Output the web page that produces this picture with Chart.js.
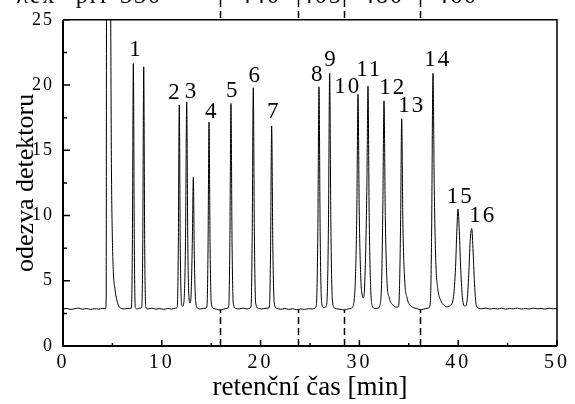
<!DOCTYPE html>
<html>
<head>
<meta charset="utf-8">
<script src="https://cdn.jsdelivr.net/npm/chart.js@4.4.0/dist/chart.umd.min.js"></script>
<style>
  html, body { margin: 0; padding: 0; background: #fff; }
  canvas { display: block; }
</style>
</head>
<body>
<canvas id="chart" width="575" height="404"></canvas>
<script>
// chromatogram: retention time [min] and detector response
const chromTime = [
  0, 0.4, 0.8, 1.2, 1.6, 2.0, 2.4, 2.8, 3.2, 3.6, 4.0, 4.3,
  4.37, 4.4, 4.43, 4.78, 4.83, 4.9, 4.99, 5.1, 5.27, 5.45, 5.65, 5.9, 6.2, 6.55,
  6.92, 7.02, 7.12, 7.22, 7.32, 7.52, 7.77,
  7.97, 8.07, 8.17, 8.27, 8.38, 8.6, 9.0, 9.4, 9.8, 10.2, 10.6, 11.0, 11.4,
  11.57, 11.67, 11.77, 11.87, 12.0, 12.1,
  12.24, 12.4, 12.52, 12.63, 12.76, 12.86,
  12.98, 13.1, 13.19, 13.29, 13.43, 13.63, 13.93, 14.23, 14.48,
  14.58, 14.68, 14.78, 14.89, 15.01, 15.23, 15.53, 15.9, 16.28, 16.63,
  16.78, 16.89, 17.0, 17.11, 17.23, 17.48, 17.83, 18.23, 18.63, 18.93,
  19.04, 19.15, 19.26, 19.37, 19.5, 19.74, 20.09, 20.44, 20.79,
  20.9, 21.01, 21.12, 21.24, 21.38, 21.64, 22.04, 22.44, 22.84, 23.24, 23.64, 24.04, 24.44, 24.84, 25.24, 25.5,
  25.65, 25.79, 25.91, 26.03, 26.17, 26.35,
  26.61, 26.76, 26.87, 26.99, 27.11, 27.26, 27.46, 27.81, 28.16, 28.5, 28.85, 29.2,
  29.41, 29.61, 29.74, 29.86, 29.98, 30.14, 30.28, 30.39,
  30.51, 30.66, 30.76, 30.87, 30.99, 31.14, 31.31, 31.56, 31.86,
  32.07, 32.25, 32.37, 32.49, 32.62, 32.79, 33.02, 33.37, 33.72, 33.94,
  34.05, 34.17, 34.28, 34.4, 34.57, 34.82, 35.17, 35.57, 35.92, 36.27, 36.67, 37.03,
  37.18, 37.3, 37.45, 37.58, 37.73, 37.93, 38.23, 38.58, 38.84,
  39.18, 39.53, 39.73, 39.86, 39.98, 40.11, 40.26, 40.43, 40.68,
  40.89, 41.07, 41.21, 41.37, 41.51, 41.67, 41.84, 42.09,
  42.4, 42.8, 43.2, 43.6, 44.0, 44.4, 44.8, 45.2, 45.6, 46.0, 46.4, 46.8, 47.2, 47.6, 48.0, 48.4, 48.8, 49.2, 49.6, 50.0
];
const chromSignal = [
  2.84, 2.88, 2.8, 2.86, 2.9, 2.82, 2.87, 2.8, 2.86, 2.83, 2.88, 2.85,
  3.6, 24, 32, 32, 25, 14, 8.5, 5.6, 4.3, 3.5, 3.05, 2.88, 2.84, 2.88,
  2.9, 7.5, 21.65, 7.5, 2.95, 2.84, 2.9,
  2.95, 7.5, 21.4, 7.5, 3.0, 2.84, 2.9, 2.82, 2.87, 2.8, 2.88, 2.83, 2.9,
  3.0, 7.5, 18.47, 7.5, 3.2, 3.05,
  3.4, 8, 18.71, 8, 3.6, 3.3,
  4.2, 8.5, 12.93, 7, 3.4, 2.9, 2.84, 2.88, 2.9,
  3.1, 7.5, 17.16, 7.5, 3.3, 2.88, 2.82, 2.76, 2.84, 2.9,
  3.1, 8, 18.59, 8, 3.3, 2.88, 2.84, 2.9, 2.84, 2.9,
  3.1, 8.5, 19.79, 8.5, 3.3, 2.9, 2.84, 2.88, 2.9,
  3.1, 7.5, 16.86, 7.5, 3.3, 2.88, 2.82, 2.88, 2.8, 2.86, 2.78, 2.84, 2.8, 2.86, 2.84, 2.9,
  3.2, 8.5, 19.86, 8.5, 3.4, 2.95,
  3.0, 4.2, 9.5, 20.9, 9.5, 3.6, 2.92, 2.84, 2.8, 2.76, 2.84, 2.9,
  3.2, 5.5, 10.5, 19.29, 10.5, 5.2, 3.9, 3.7,
  4.3, 8, 12.5, 19.91, 10, 4.5, 3.05, 2.88, 2.9,
  3.1, 5, 10.5, 18.79, 10, 5, 3.7, 3.15, 2.98, 3.0,
  4.2, 9.5, 17.42, 9.5, 5.2, 3.7, 3.1, 2.92, 2.84, 2.78, 2.86, 2.92,
  3.3, 8, 20.9, 12, 6.5, 4.4, 3.5, 3.1, 3.0,
  3.1, 3.8, 6, 8.8, 10.48, 8.8, 5.8, 3.7, 3.05,
  3.4, 5.5, 8, 9.0, 7.2, 4.5, 3.1, 2.9,
  2.85, 2.9, 2.83, 2.88, 2.84, 2.9, 2.82, 2.88, 2.85, 2.9, 2.83, 2.88, 2.84, 2.9, 2.85, 2.88, 2.83, 2.9, 2.85, 2.87
];

// peak numbers and where they are written (data coordinates)
const peakLabels = ['1','2','3','4','5','6','7','8','9','10','11','12','13','14','15','16'];
const peakLabelTime = [7.29, 11.23, 12.9, 14.95, 17.08, 19.36, 21.23, 25.68, 27.02, 28.71, 30.9, 33.27, 35.19, 37.82, 40.11, 42.38];
const peakLabelValue = [22.7, 19.4, 19.5, 17.96, 19.54, 20.66, 17.91, 20.79, 21.9, 19.84, 21.16, 19.78, 18.41, 21.9, 11.43, 9.93];

// detector wavelength switches
const switchTimes = [15.89, 23.75, 28.47, 36.16];
const switchBaseline = 2.8;
const topTexts = ['λex', 'při', '330', '440', '405', '480', '460'];
const topTextTimes = [-2.7, 2.95, 7.9, 19.94, 26.2, 32.39, 39.88];

const xMinorTicks = [5, 15, 25, 35, 45];
const yMinorTicks = [2.5, 7.5, 12.5, 17.5, 22.5];

const SERIF = "'Liberation Serif', 'Times New Roman', serif";

// the figure's digits are set loosely; widen tick labels a bit
function spacedLabels(scale, spacing) {
  const orig = scale.drawLabels;
  scale.drawLabels = function (area) {
    const c = this.ctx;
    c.save();
    c.letterSpacing = spacing;
    orig.call(this, area);
    c.restore();
  };
}

const decorations = {
  id: 'decorations',
  afterDatasetsDraw(chart) {
    const { ctx, chartArea: a, scales: { x, y } } = chart;
    ctx.save();
    ctx.strokeStyle = '#000';
    ctx.fillStyle = '#000';

    // dashed switch lines (bottom, below baseline) and their marks above the frame
    ctx.lineWidth = 1.5;
    ctx.setLineDash([7, 4]);
    switchTimes.forEach(t => {
      const px = Math.round(x.getPixelForValue(t)) + 0.5;
      ctx.beginPath();
      ctx.moveTo(px, a.bottom);
      ctx.lineTo(px, y.getPixelForValue(switchBaseline));
      ctx.stroke();
      ctx.beginPath();
      ctx.moveTo(px, 0);
      ctx.lineTo(px, a.top);
      ctx.stroke();
    });
    ctx.setLineDash([]);

    // frame
    ctx.lineWidth = 1.5;
    ctx.beginPath();
    ctx.moveTo(a.left, a.top);
    ctx.lineTo(a.right, a.top);
    ctx.lineTo(a.right, a.bottom);
    ctx.stroke();
    ctx.lineWidth = 2;
    ctx.beginPath();
    ctx.moveTo(a.left, a.top);
    ctx.lineTo(a.left, a.bottom);
    ctx.lineTo(a.right, a.bottom);
    ctx.stroke();

    // inward tick marks
    ctx.lineWidth = 1.5;
    ctx.beginPath();
    x.ticks.forEach(tk => {
      const px = x.getPixelForValue(tk.value);
      ctx.moveTo(px, a.bottom); ctx.lineTo(px, a.bottom - 6);
    });
    xMinorTicks.forEach(v => {
      const px = x.getPixelForValue(v);
      ctx.moveTo(px, a.bottom); ctx.lineTo(px, a.bottom - 3);
    });
    y.ticks.forEach(tk => {
      const py = y.getPixelForValue(tk.value);
      ctx.moveTo(a.left, py); ctx.lineTo(a.left + 7, py);
    });
    yMinorTicks.forEach(v => {
      const py = y.getPixelForValue(v);
      ctx.moveTo(a.left, py); ctx.lineTo(a.left + 4, py);
    });
    ctx.stroke();

    // peak numbers
    ctx.font = '23px ' + SERIF;
    ctx.letterSpacing = '2px';
    ctx.textAlign = 'center';
    ctx.textBaseline = 'middle';
    peakLabels.forEach((s, i) => {
      ctx.fillText(s, x.getPixelForValue(peakLabelTime[i]) + 1, y.getPixelForValue(peakLabelValue[i]));
    });

    // wavelength row, cut by the top edge
    ctx.font = '24px ' + SERIF;
    ctx.textBaseline = 'alphabetic';
    topTexts.forEach((s, i) => {
      ctx.fillText(s, x.getPixelForValue(topTextTimes[i]), 2.5);
    });
    ctx.restore();
  }
};

const ctx = document.getElementById('chart').getContext('2d');
new Chart(ctx, {
  type: 'line',
  data: {
    datasets: [{
      data: chromTime.map((t, i) => ({ x: t, y: chromSignal[i] })),
      borderColor: '#000',
      borderWidth: 1,
      pointRadius: 0,
      fill: false,
      cubicInterpolationMode: 'monotone'
    }]
  },
  options: {
    responsive: false,
    animation: false,
    layout: { padding: { top: 12, right: 18, left: 0, bottom: 0 } },
    plugins: { legend: { display: false }, tooltip: { enabled: false } },
    scales: {
      x: {
        type: 'linear', min: 0, max: 50,
        grid: { display: false, drawTicks: false },
        border: { display: false },
        ticks: { stepSize: 10, color: '#000', padding: 5, maxRotation: 0, font: { family: SERIF, size: 20 } },
        title: { display: true, text: 'retenční čas [min]', color: '#000', padding: 0, font: { family: SERIF, size: 27 } },
        afterFit(s) { s.height = 58; },
        afterUpdate(s) { if (!s._spaced) { spacedLabels(s, '3px'); s._spaced = true; } }
      },
      y: {
        min: 0, max: 25,
        grid: { display: false, drawTicks: false },
        border: { display: false },
        ticks: { stepSize: 5, color: '#000', padding: 9, font: { family: SERIF, size: 18 } },
        title: { display: true, text: 'odezva detektoru', color: '#000', padding: { top: 11, bottom: 0 }, font: { family: SERIF, size: 26 } },
        afterFit(s) { s.width = 63; },
        afterUpdate(s) { if (!s._spaced) { spacedLabels(s, '2px'); s._spaced = true; } }
      }
    }
  },
  plugins: [decorations]
});
</script>
</body>
</html>
